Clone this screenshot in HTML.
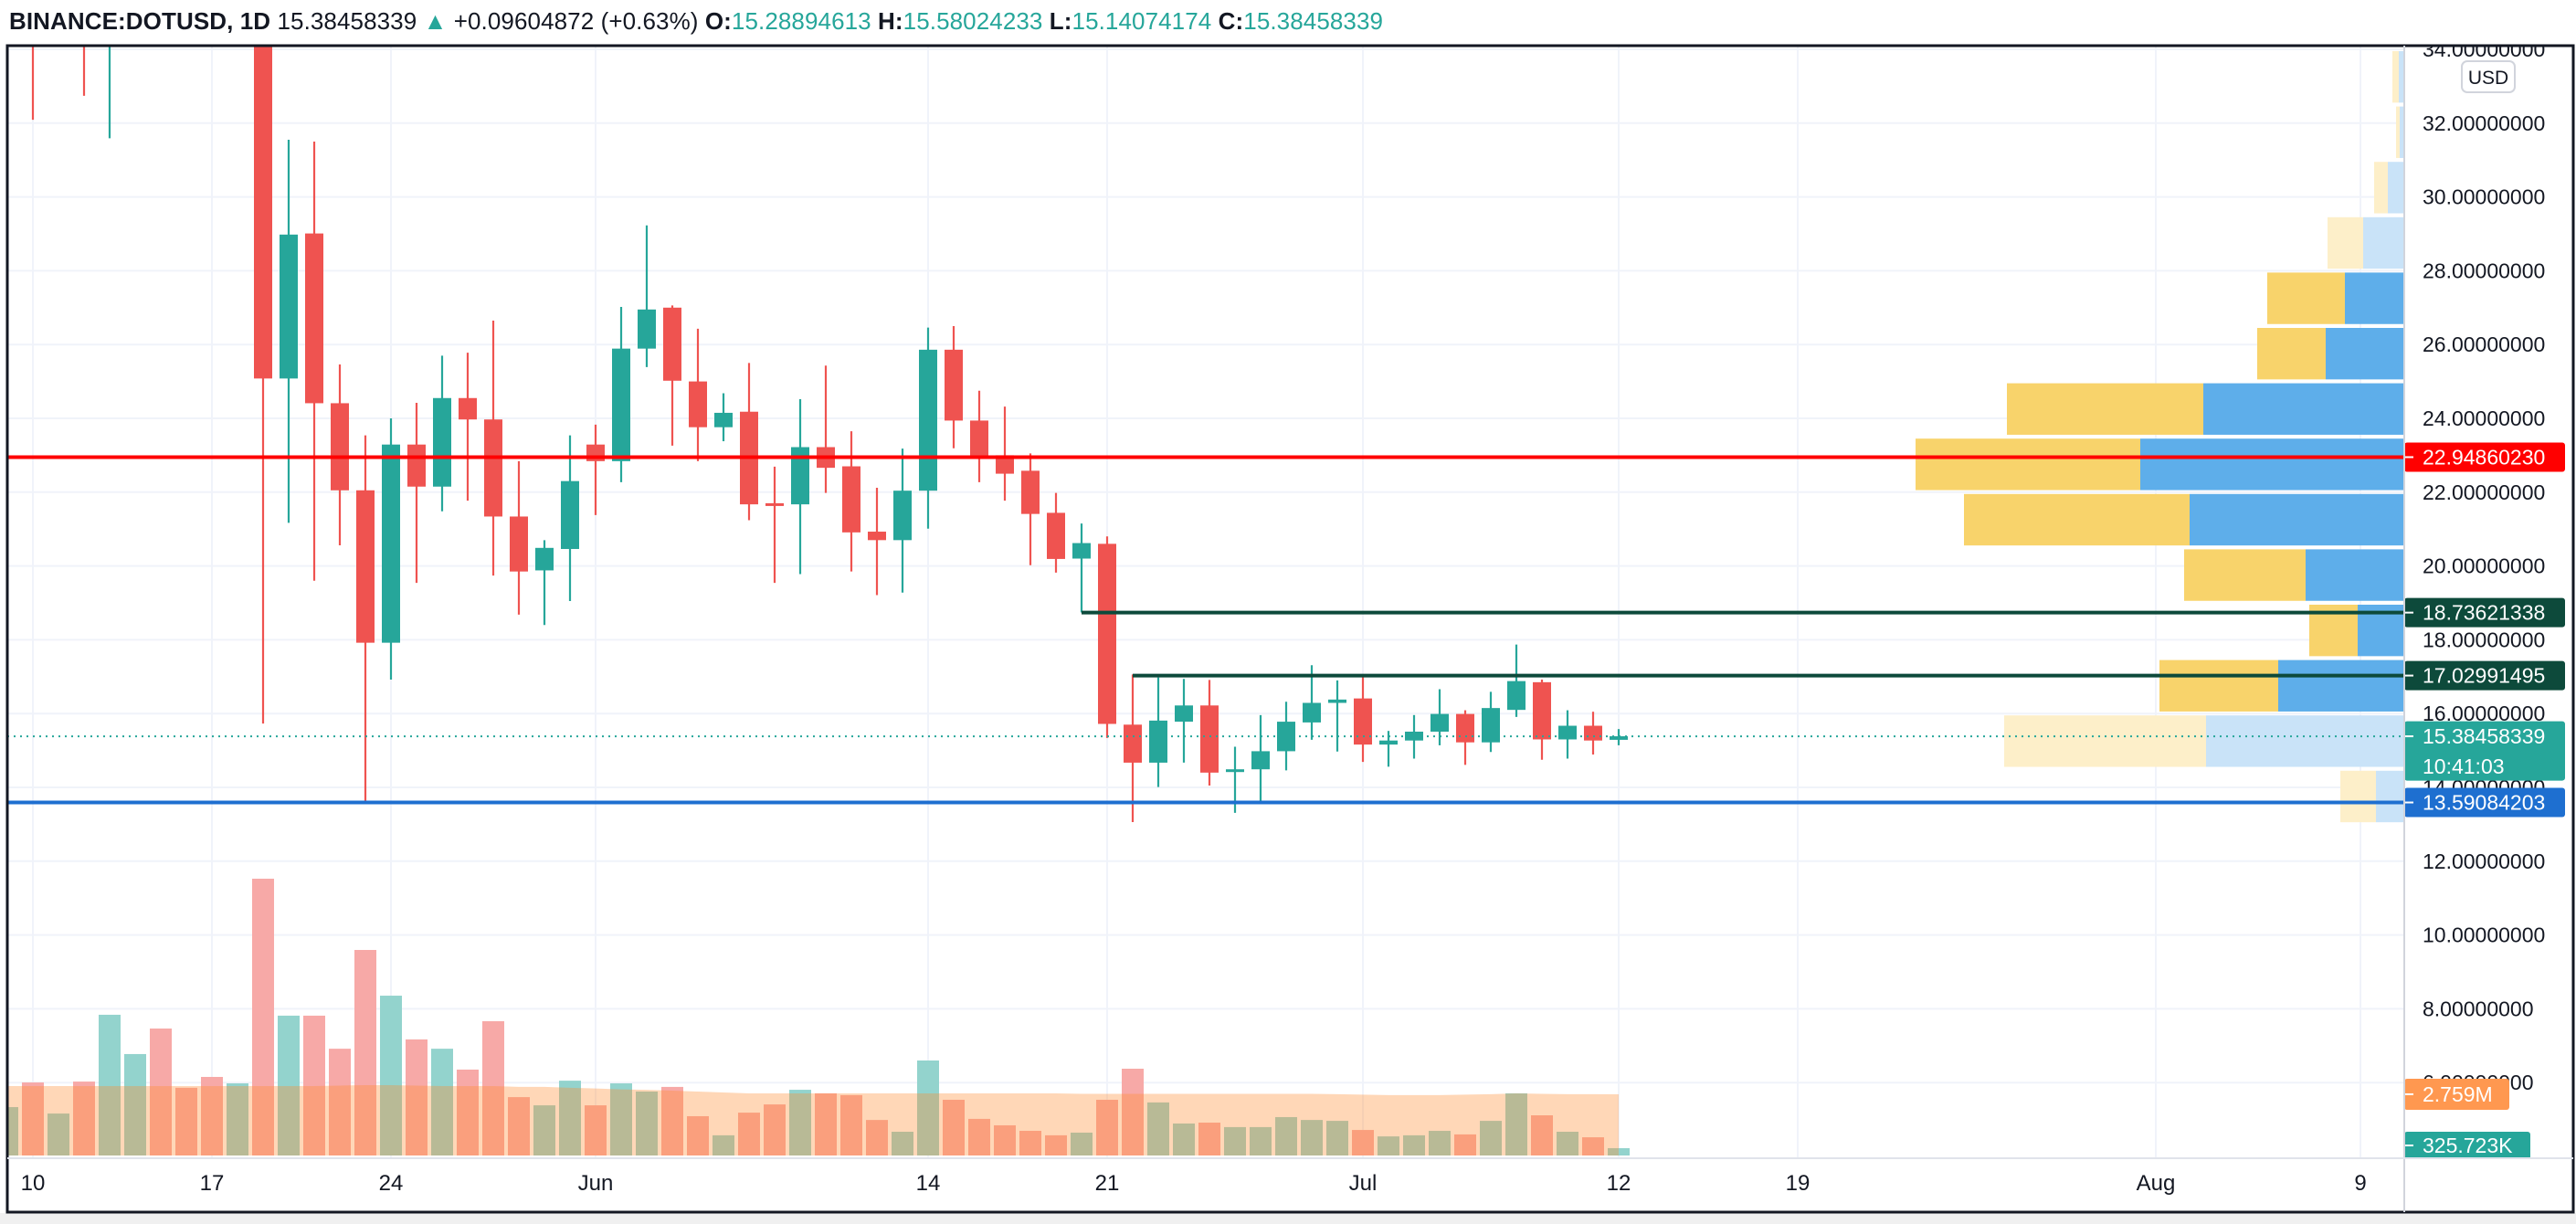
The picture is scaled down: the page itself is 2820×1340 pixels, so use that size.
<!DOCTYPE html>
<html><head><meta charset="utf-8">
<style>
html,body{margin:0;padding:0;background:#fff;}
svg{display:block;font-family:"Liberation Sans",sans-serif;}
</style></head>
<body>
<svg id="chart" width="2820" height="1340" viewBox="0 0 2820 1340" xmlns="http://www.w3.org/2000/svg">
<defs>
<clipPath id="pane"><rect x="8" y="51" width="2624" height="1216"/></clipPath>
<clipPath id="axisclip"><rect x="2633" y="51" width="184" height="1216"/></clipPath>
</defs>
<rect x="0" y="0" width="2820" height="1340" fill="#ffffff"/>
<rect x="0" y="1328" width="2820" height="12" fill="#f0f0f0"/>
<text x="10" y="32" font-size="26" fill="#131722" textLength="1504" lengthAdjust="spacing"><tspan font-weight="bold">BINANCE:DOTUSD, 1D</tspan> 15.38458339 <tspan fill="#26a69a">▲</tspan> +0.09604872 (+0.63%) <tspan font-weight="bold">O:</tspan><tspan fill="#26a69a">15.28894613</tspan> <tspan font-weight="bold">H:</tspan><tspan fill="#26a69a">15.58024233</tspan> <tspan font-weight="bold">L:</tspan><tspan fill="#26a69a">15.14074174</tspan> <tspan font-weight="bold">C:</tspan><tspan fill="#26a69a">15.38458339</tspan></text>
<g id="grid"></g>
<g id="vp" clip-path="url(#pane)"></g>
<g id="vol" clip-path="url(#pane)"></g>
<g id="candles" clip-path="url(#pane)"></g>
<g id="lines" clip-path="url(#pane)"></g>
<g id="yaxis"></g>
<g id="xaxis"></g>
<rect x="8" y="50" width="2809" height="1277" fill="none" stroke="#131722" stroke-width="3"/>
<line x1="2632" y1="50" x2="2632" y2="1327" stroke="#d1d4dc" stroke-width="2"/>
<line x1="8" y1="1268" x2="2817" y2="1268" stroke="#e0e3eb" stroke-width="2"/>
</svg>
<script>
// ---- data ----
const dayIndex = [-1,0,1,2,3,4,5,6,7,8,9,10,11,12,13,14,15,16,17,18,19,20,21,22,23,24,25,26,27,28,29,30,31,32,33,34,35,36,37,38,39,40,41,42,43,44,45,46,47,48,49,50,51,52,53,54,55,56,57,58,59,60,61,62];
const opens  = [36,38,36,38,36,36,40,40,40,36,38,25.08,29.01,24.41,22.05,17.92,23.29,22.15,24.55,23.97,21.34,19.88,20.46,23.29,22.84,25.89,27.0,25.0,23.76,24.18,21.7,21.67,23.22,22.7,20.93,20.7,22.04,25.86,23.94,23.0,22.58,21.44,20.2,20.6,15.70,14.67,15.78,16.22,14.44,14.49,14.98,15.76,16.29,16.41,15.16,15.27,15.51,15.99,15.22,16.10,16.85,15.30,15.67,15.289];
const highs  = [40,41,41,41,40,40,41,41,41,40,41,31.55,31.5,25.46,23.54,24.0,24.42,25.7,25.78,26.65,22.84,20.7,23.54,23.83,27.02,29.23,27.06,26.43,24.68,25.5,22.69,24.52,25.43,23.65,22.12,23.18,26.46,26.5,24.75,24.32,23.05,21.98,21.15,20.8,17.06,16.98,16.94,16.91,15.10,15.96,16.32,17.31,16.90,17.0,15.53,15.96,16.66,16.09,16.59,17.87,16.92,16.09,16.05,15.580];
const lows   = [35,32.09,35,32.74,31.59,35,35,35,35,35,15.73,21.17,19.6,20.56,13.6,16.92,19.54,21.48,21.77,19.74,18.68,18.4,19.05,21.38,22.27,25.39,23.26,22.84,23.38,21.24,19.54,19.78,21.98,19.85,19.21,19.28,21.01,23.19,22.27,21.77,20.02,19.82,18.74,15.34,13.06,14.01,14.67,14.05,13.31,13.55,14.46,15.29,14.97,14.69,14.56,14.78,15.14,14.61,14.96,15.91,14.75,14.78,14.89,15.141];
const closes = [37,37,37,37,37,37,39,39,39,37,25.08,28.98,24.41,22.05,17.92,23.29,22.15,24.55,23.97,21.34,19.85,20.49,22.3,22.84,25.89,26.95,25.02,23.76,24.15,21.67,21.65,23.22,22.66,20.91,20.7,22.04,25.86,23.94,22.98,22.5,21.41,20.19,20.62,15.72,14.67,15.81,16.22,14.40,14.49,14.98,15.78,16.29,16.38,15.16,15.27,15.51,15.99,15.22,16.15,16.88,15.30,15.67,15.27,15.385];
const volumesM = [2.18,3.29,1.89,3.33,6.34,4.57,5.72,3.05,3.54,3.25,12.47,6.30,6.30,4.81,9.26,7.20,5.23,4.81,3.87,6.05,2.63,2.26,3.37,2.26,3.25,2.88,3.09,1.77,0.91,1.93,2.30,2.96,2.80,2.72,1.60,1.07,4.28,2.51,1.65,1.36,1.11,0.91,1.03,2.51,3.91,2.39,1.44,1.48,1.28,1.28,1.73,1.60,1.56,1.15,0.86,0.91,1.11,0.95,1.56,2.80,1.81,1.07,0.82,0.33];
const volMaM = [3.13,3.13,3.13,3.13,3.13,3.13,3.13,3.13,3.13,3.13,3.13,3.13,3.13,3.15,3.17,3.17,3.15,3.13,3.13,3.13,3.09,3.09,3.05,3.02,2.98,2.96,2.92,2.88,2.84,2.80,2.80,2.80,2.80,2.80,2.80,2.80,2.80,2.80,2.80,2.80,2.80,2.80,2.78,2.78,2.78,2.78,2.78,2.78,2.78,2.78,2.78,2.78,2.76,2.74,2.72,2.72,2.72,2.74,2.76,2.80,2.78,2.76,2.76,2.759];
const priceTicks = [34,32,30,28,26,24,22,20,18,16,14,12,10,8,6];
const dateLabels = ["10","17","24","Jun","14","21","Jul","12","19","Aug","9"];
const dateDays   = [0,7,14,22,35,42,52,62,69,83,91];
const levelPrices = [22.94860230, 18.73621338, 17.02991495, 13.59084203];
const levelStartDay = [null, 41, 43, null];
const lastPrice = 15.38458339;
const profileTops = [34.0,32.5,31.0,29.5,28.0,26.5,25.0,23.5,22.0,20.5,19.0,17.5,16.0,14.5];
const profileUp   = [6,5,18,45,65,86,220,289,235,108,51,138,217,31];
const profileDown = [7,4,15,39,85,75,215,246,247,133,53,130,221,39];
const profileValueArea = [0,0,0,0,1,1,1,1,1,1,1,1,0,0];
const profileBin = 1.494;

// ---- scales ----
const X0 = 36, DAY = 28;
function xOf(d){ return X0 + d*DAY; }
function yOf(p){ return 619.6 - (p-20)*40.4; }
const VBASE = 1265, VPX = 24.3;
function vH(v){ return v*VPX; }
const PROF_RIGHT = 2632;
const NS = "http://www.w3.org/2000/svg";
function mk(tag, attrs, parent){
  const e = document.createElementNS(NS, tag);
  for (const k in attrs) e.setAttribute(k, attrs[k]);
  parent.appendChild(e); return e;
}
const grid = document.getElementById('grid');
const vp = document.getElementById('vp');
const vol = document.getElementById('vol');
const cg = document.getElementById('candles');
const lg = document.getElementById('lines');
const ya = document.getElementById('yaxis');
const xa = document.getElementById('xaxis');

priceTicks.forEach(p=>{
  const l = mk('line',{x1:8,x2:2632,y1:yOf(p),y2:yOf(p),stroke:'#f0f3fa','stroke-width':2},grid);
  
  
});
dateDays.forEach(d=>{
  const l = mk('line',{x1:xOf(d),x2:xOf(d),y1:51,y2:1268,stroke:'#f0f3fa','stroke-width':2},grid);
  
  
});

profileTops.forEach((t,i)=>{
  const y1 = yOf(t)+2, y2 = yOf(t-profileBin)-2;
  const solid = profileValueArea[i]===1;
  const upX = PROF_RIGHT - profileUp[i];
  const dnX = upX - profileDown[i];
  const b = mk('rect',{x:upX,y:y1,width:profileUp[i],height:y2-y1,fill:solid?'#5eaeea':'#c9e3f8'},vp);
  
  
  const yl = mk('rect',{x:dnX,y:y1,width:profileDown[i],height:y2-y1,fill:solid?'#f8d36b':'#fdefc9'},vp);
  
  
});

dayIndex.forEach((d,i)=>{
  const up = closes[i]>=opens[i];
  const h = vH(volumesM[i]);
  const r = mk('rect',{x:xOf(d)-12,y:VBASE-h,width:24,height:h,fill:up?'#93d3cd':'#f7a9a7'},vol);
  
  
});
let pts = `M${xOf(dayIndex[0])-12},${VBASE}`;
dayIndex.forEach((d,i)=>{ pts += ` L${xOf(d)},${VBASE-vH(volMaM[i])}`; });
pts += ` L${xOf(dayIndex[dayIndex.length-1])},${VBASE} Z`;
const ma = mk('path',{d:pts,fill:'rgba(255,140,50,0.35)'},vol);



dayIndex.forEach((d,i)=>{
  const up = closes[i]>=opens[i];
  const col = up?'#26a69a':'#ef5350';
  const x = xOf(d);
  const w = mk('line',{x1:x,x2:x,y1:yOf(highs[i]),y2:yOf(lows[i]),stroke:col,'stroke-width':2.2},cg);
  
  
  const top = yOf(Math.max(opens[i],closes[i])), bot = yOf(Math.min(opens[i],closes[i]));
  const b = mk('rect',{x:x-10,y:top,width:20,height:Math.max(bot-top,3),fill:col},cg);
  
  
});

const levelColors = ['#ff0000','#0d4a3b','#0d4a3b','#1e6fd0'];
levelPrices.forEach((p,i)=>{
  const sx = levelStartDay[i]===null ? 8 : xOf(levelStartDay[i]);
  const l = mk('line',{x1:sx,x2:2632,y1:yOf(p),y2:yOf(p),stroke:levelColors[i],'stroke-width':4},lg);
  
  
});
const dl = mk('line',{x1:8,x2:2632,y1:yOf(lastPrice),y2:yOf(lastPrice),stroke:'#26a69a','stroke-width':2,'stroke-dasharray':'2,5'},lg);



const yac = mk('g',{'clip-path':'url(#axisclip)'},ya);
priceTicks.forEach(p=>{
  const t = mk('text',{x:2652,y:yOf(p)+8,'font-size':23,fill:'#131722'},yac);
  
  
  t.textContent = p.toFixed(8);
});
const usd = mk('rect',{x:2695,y:67,width:58,height:34,rx:6,fill:'#fff',stroke:'#d1d4dc','stroke-width':2},yac);


const ut = mk('text',{x:2724,y:92,'font-size':21,fill:'#131722','text-anchor':'middle'},yac);


ut.textContent = 'USD';

function badge(yc, h, w, col, lines, name){
  const r = mk('rect',{x:2632,y:yc-h/2,width:w,height:h,rx:3,fill:col},yac);
  
  
  mk('line',{x1:2632,x2:2642,y1:yc-(lines.length-1)*16,y2:yc-(lines.length-1)*16,stroke:'#fff','stroke-width':2},yac);
  lines.forEach((s,k)=>{
    const t = mk('text',{x:2652,y:yc+8-(lines.length-1)*16+k*33,'font-size':23,fill:'#fff'},yac);
    
    
    t.textContent = s;
  });
}
badge(yOf(levelPrices[0]),32,176,'#ff0000',[levelPrices[0].toFixed(8)],'level-red-label');
badge(yOf(levelPrices[1]),32,176,'#0d4a3b',[levelPrices[1].toFixed(8)],'level-high-label');
badge(yOf(levelPrices[2]),32,176,'#0d4a3b',[levelPrices[2].toFixed(8)],'level-mid-label');
badge(yOf(lastPrice)+16,65,176,'#26a69a',[lastPrice.toFixed(8),'10:41:03'],'last-price-label');
badge(yOf(levelPrices[3]),32,176,'#1e6fd0',[levelPrices[3].toFixed(8)],'level-blue-label');
badge(VBASE-vH(volMaM[volMaM.length-1]),34,115,'#ff9850',['2.759M'],'volume-ma-label');
badge(1254,30,138,'#26a69a',['325.723K'],'volume-last-label');

dateLabels.forEach((s,i)=>{
  const t = mk('text',{x:xOf(dateDays[i]),y:1303,'font-size':24,fill:'#131722','text-anchor':'middle'},xa);
  
  
  t.textContent = s;
});
</script>
</body></html>
